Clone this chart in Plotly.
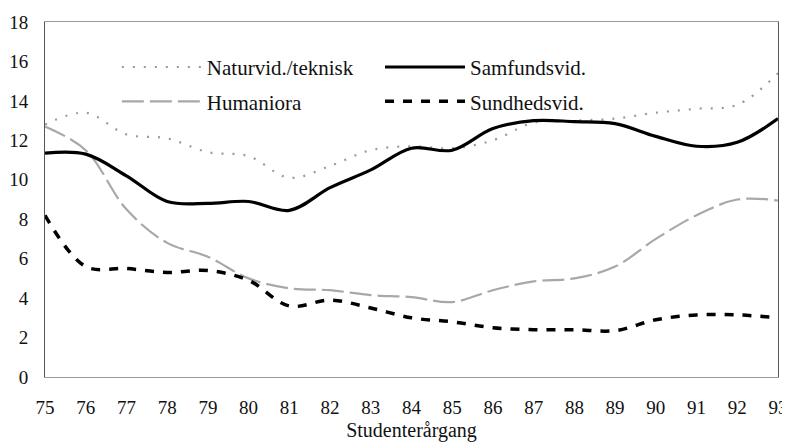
import plotly.graph_objects as go

years = list(range(75, 94))
year_labels = [str(y) for y in years]

naturvid = [12.8, 13.4, 12.3, 12.1, 11.4, 11.2, 10.1, 10.7, 11.5, 11.7, 11.6, 12.0, 12.9, 13.0, 13.1, 13.4, 13.6, 13.8, 15.4]
samfund = [11.35, 11.3, 10.2, 8.9, 8.8, 8.9, 8.45, 9.6, 10.5, 11.6, 11.5, 12.6, 13.0, 12.95, 12.85, 12.2, 11.7, 11.9, 13.1]
humaniora = [12.7, 11.5, 8.5, 6.8, 6.1, 5.0, 4.5, 4.4, 4.15, 4.05, 3.8, 4.4, 4.85, 5.0, 5.6, 7.0, 8.2, 9.0, 8.95]
sundhed = [8.2, 5.6, 5.5, 5.3, 5.4, 4.9, 3.6, 3.9, 3.5, 3.0, 2.8, 2.5, 2.4, 2.4, 2.35, 2.9, 3.15, 3.15, 3.0]

y_ticks = list(range(0, 19, 2))
FONT = "Liberation Serif, Times New Roman, serif"

fig = go.Figure()
fig.add_trace(go.Scatter(x=years, y=naturvid, name="Naturvid./teknisk", mode="lines",
                         legend="legend", legendgroup="a",
                         line=dict(color="#9a9a9a", width=2.2, dash="2px,9px", shape="spline", smoothing=1.0)))
fig.add_trace(go.Scatter(x=years, y=humaniora, name="Humaniora", mode="lines",
                         legend="legend", legendgroup="b",
                         line=dict(color="#a8a8a8", width=2.2, dash="22px,6px", shape="spline", smoothing=1.0)))
fig.add_trace(go.Scatter(x=years, y=samfund, name="Samfundsvid.", mode="lines",
                         legend="legend2", legendgroup="c",
                         line=dict(color="#000000", width=3.2, shape="spline", smoothing=1.0)))
fig.add_trace(go.Scatter(x=years, y=sundhed, name="Sundhedsvid.", mode="lines",
                         legend="legend2", legendgroup="d",
                         line=dict(color="#000000", width=3.5, dash="9px,9px", shape="spline", smoothing=1.0)))

legend_common = dict(orientation="v", yanchor="top", xanchor="left", itemwidth=80,
                     tracegroupgap=4, font=dict(family=FONT, size=21, color="#111"),
                     bgcolor="rgba(0,0,0,0)", traceorder="grouped")

# page body has an 8px default margin, so the figure is sized to the visible area
fig.update_layout(
    width=782, height=434,
    margin=dict(l=37, r=12, t=14, b=65),
    paper_bgcolor="white", plot_bgcolor="white",
    font=dict(family=FONT, size=19, color="#111"),
    showlegend=True,
    legend=dict(x=0.098, y=0.93, **legend_common),
    legend2=dict(x=0.457, y=0.93, **legend_common),
    xaxis=dict(range=[75, 93], tickmode="array", tickvals=years, ticktext=year_labels,
               showgrid=False, zeroline=False, showline=True, linecolor="#9a9a9a", linewidth=1,
               mirror=True, ticks="", ticklabelstandoff=13, automargin=False,
               tickfont=dict(family=FONT, size=19),
               title=dict(text="Studenterårgang", font=dict(family=FONT, size=20), standoff=7)),
    yaxis=dict(range=[0, 18], tickmode="array", tickvals=y_ticks,
               showgrid=False, zeroline=False, showline=True, linecolor="#555", linewidth=1,
               mirror=True, ticks="", ticklabelstandoff=12, automargin=False,
               tickfont=dict(family=FONT, size=19)),
)
fig.write_html("out.html")
